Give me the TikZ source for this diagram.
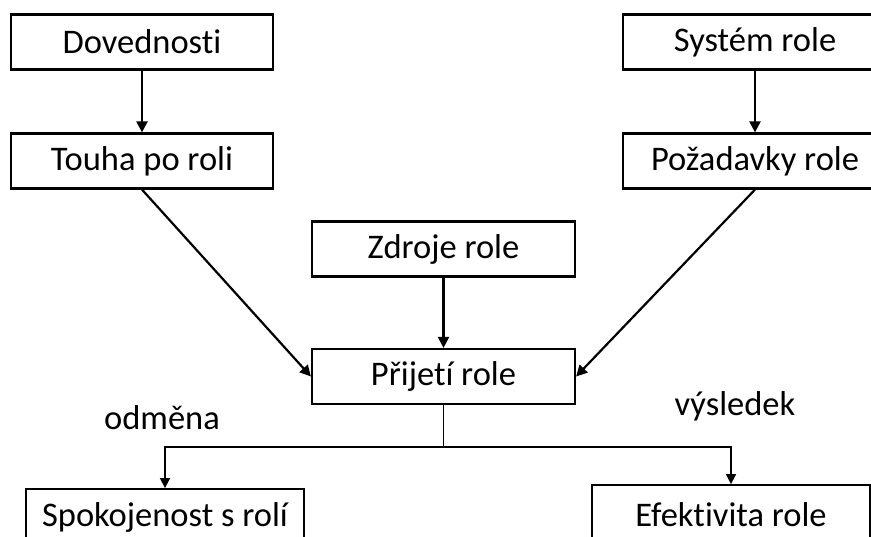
\documentclass[tikz,border=0pt]{standalone}
\usepackage{fontspec}
\setmainfont{Carlito}[Ligatures=NoCommon]
\usetikzlibrary{arrows.meta}
\begin{document}
\begin{tikzpicture}[x=1pt,y=-1pt,
  box/.style={draw, line width=2.2pt, inner sep=0pt, minimum height=55pt, font=\fontsize{34.5}{40}\selectfont},
  lbl/.style={inner sep=0pt, font=\fontsize{34.5}{40}\selectfont},
  arr/.style={line width=2.2pt, -{Triangle[length=11pt,width=11pt]}},
  thin arr/.style={line width=1.6pt, -{Triangle[length=10pt,width=10pt]}}]
\useasboundingbox (0,0) rectangle (871,537);
\clip (0,0) rectangle (871,537);
\node[box, minimum width=262pt] (dov) at (142,42) {Dovednosti};
\node[box, minimum width=262pt] (tou) at (142,161) {Touha po roli};
\node[box, minimum width=264pt] (sys) at (755,42) {Systém role};
\node[box, minimum width=264pt] (poz) at (755,161) {Požadavky role};
\node[box, minimum width=263pt] (zdr) at (443.5,249) {Zdroje role};
\node[box, minimum width=263pt] (pri) at (443.5,376.5) {Přijetí role};
\node[box, line width=1.8pt, minimum width=278pt, minimum height=56pt] (spo) at (165,517) {Spokojenost s rolí};
\node[box, line width=1.8pt, minimum width=278pt, minimum height=60pt] (efe) at (731,515) {Efektivita role};
\node[lbl] (odm) at (162,418) {odměna};
\node[lbl] (vys) at (735,406) {výsledek};
\coordinate (split) at (443.5,447);
\draw[arr] (dov.south) -- (tou.north);
\draw[arr] (sys.south) -- (poz.north);
\draw[arr] (zdr.south) -- (pri.north);
\draw[arr] (tou.south) -- (pri.west);
\draw[arr] (poz.south) -- (pri.east);
\draw[line width=1.8pt] (pri.south) -- (split);
\draw[thin arr] (split) -| (spo.north);
\draw[thin arr] (split) -| (efe.north);
\end{tikzpicture}
\end{document}
